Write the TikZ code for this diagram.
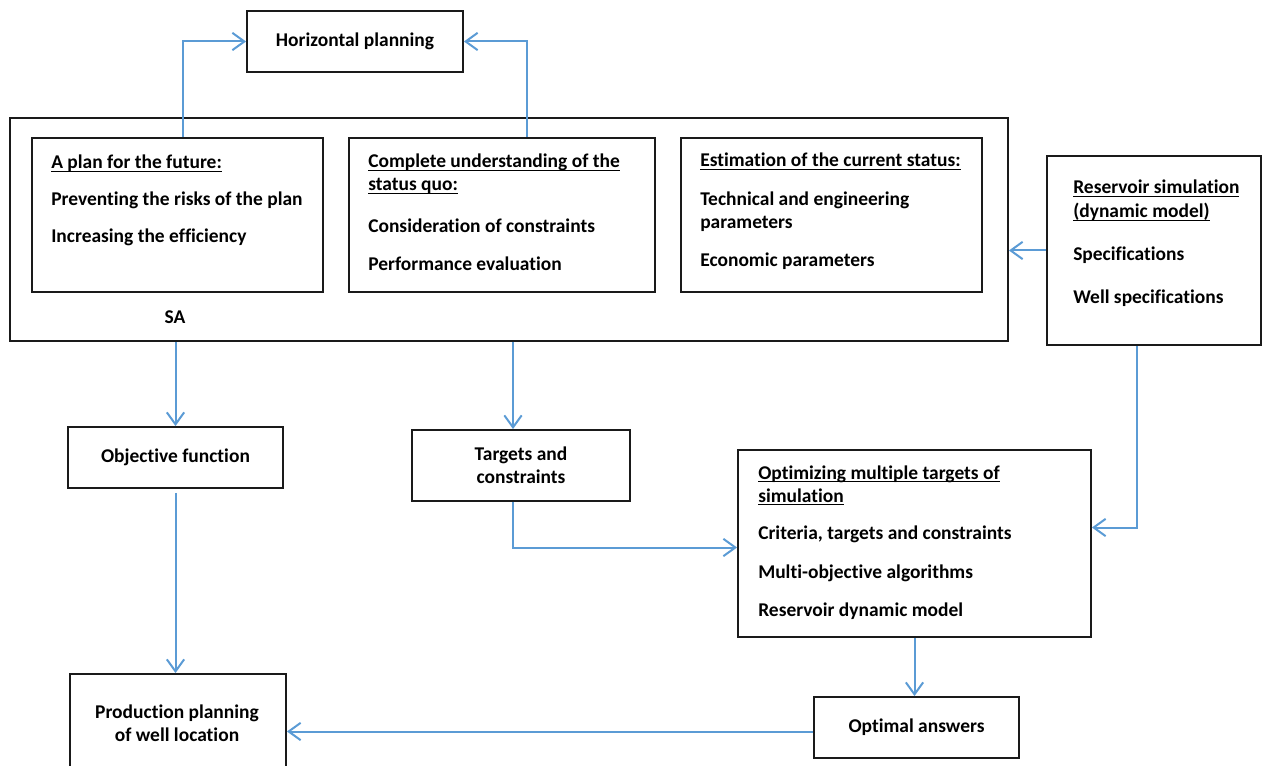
\documentclass[tikz,border=0pt]{standalone}
\usepackage{fontspec}
\setmainfont{Carlito}[Ligatures=NoCommon]
\usepackage{tikz}
\usetikzlibrary{arrows.meta,calc,fit}
\definecolor{INK}{HTML}{1A1A1A}
\definecolor{BLUE}{HTML}{5B9BD5}
\newcommand{\hdr}[1]{\setbox0=\hbox{#1}\rlap{\rule[-2.6pt]{\wd0}{0.75pt}}\box0}

\begin{document}
\begin{tikzpicture}[x=0.75pt,y=-0.75pt,font=\bfseries\fontsize{14.6}{17.6}\selectfont]
\tikzset{box/.style={draw=INK,line width=1.4pt,inner sep=0pt},
 lbl/.style={inner sep=0pt,align=center},
 txt/.style={anchor=base west,inner sep=0pt},
 arr/.style={-{Straight Barb[length=9pt,width=13pt]},line width=1.5pt,BLUE}}
\useasboundingbox (0,0) rectangle (1263,766);
% top part
\node[box,fit={(247,11) (463,72)}] (hplan) {};
\node[lbl] (hplant) at (hplan.center) {Horizontal planning};
\node[box,fit={(10,118) (1008,341)}] (sa) {};
\node[box,fit={(32,138) (323,292)}] (plan) {};
\node[box,fit={(349,138) (655,292)}] (quo) {};
\node[box,fit={(681,138) (982,292)}] (est) {};
\node[box,fit={(1047,156) (1261,345)}] (res) {};
\node[lbl] (salab) at (175,317) {SA};
\node[txt] (plan1) at (51,169) {\hdr{A plan for the future:}};
\node[txt] (plan2) at (51,206) {Preventing the risks of the plan};
\node[txt] (plan3) at (51,243) {Increasing the efficiency};
\node[txt] (quo1) at (368,168) {\hdr{Complete understanding of the}};
\node[txt] (quo2) at (368,191) {\hdr{status quo:}};
\node[txt] (quo3) at (368,233) {Consideration of constraints};
\node[txt] (quo4) at (368,271) {Performance evaluation};
\node[txt] (est1) at (700,167) {\hdr{Estimation of the current status:}};
\node[txt] (est2) at (700,206) {Technical and engineering};
\node[txt] (est3) at (700,229) {parameters};
\node[txt] (est4) at (700,267) {Economic parameters};
\node[txt] (res1) at (1073,194) {\hdr{Reservoir simulation}};
\node[txt] (res2) at (1073,218) {\hdr{(dynamic model)}};
\node[txt] (res3) at (1073,261) {Specifications};
\node[txt] (res4) at (1073,304) {Well specifications};
% lower part
\node[box,fit={(68,427) (283,488)}] (obj) {};
\node[lbl] (objt) at (obj.center) {Objective function};
\node[box,fit={(412,430) (630,501)}] (tgt) {};
\node[lbl] (tgtt) at (tgt.center) {Targets and\\constraints};
\node[box,fit={(738,450) (1091,637)}] (opt) {};
\node[txt] (opt1) at (758,479) {\hdr{Optimizing multiple targets of}};
\node[txt] (opt2) at (758,502) {\hdr{simulation}};
\node[txt] (opt3) at (758,539) {Criteria, targets and constraints};
\node[txt] (opt4) at (758,578) {Multi-objective algorithms};
\node[txt] (opt5) at (758,616) {Reservoir dynamic model};
\node[box,fit={(814,697) (1019,758)}] (ans) {};
\node[lbl] (anst) at (ans.center) {Optimal answers};
\node[box,fit={(70,674) (286,790)}] (prod) {};
\node[lbl] (prodt) at (177,723) {Production planning\\of well location};
% connectors
\draw[arr] ([xshift=4pt]plan.north) |- (hplan.west);
\draw[arr] ([xshift=19pt]quo.north) |- (hplan.east);
\draw[arr] (res.west) -- (res.west -| sa.east);
\draw[arr] (obj.north |- sa.south) -- (obj.north);
\draw[arr] ([xshift=-6pt]tgt.north |- sa.south) -- ([xshift=-6pt]tgt.north);
\draw[arr] ([xshift=-13pt]res.south) |- ([yshift=12pt]opt.east);
\draw[arr] ([xshift=-6pt]tgt.south) |- ([yshift=-3pt]opt.west);
\draw[arr] ([yshift=-3pt]obj.south) -- (obj.south |- prod.north);
\draw[arr] (opt.south) -- (opt.south |- ans.north);
\draw[arr] ([yshift=-3pt]ans.west) -- ([yshift=-3pt]ans.west -| prod.east);
\end{tikzpicture}
\end{document}
